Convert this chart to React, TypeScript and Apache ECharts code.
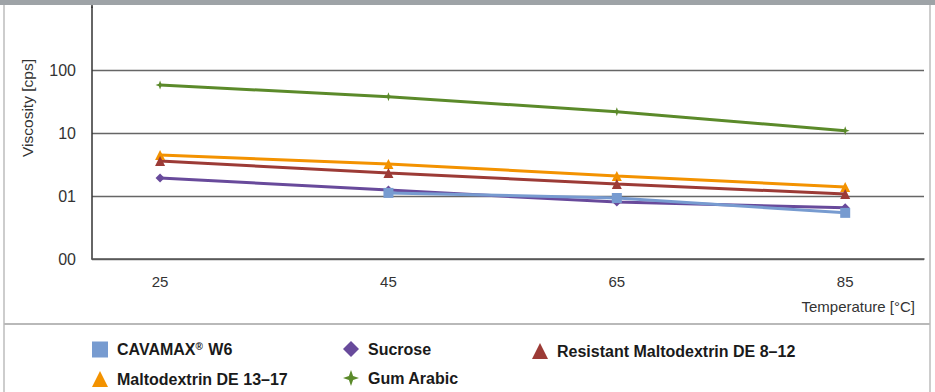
import React, { useEffect, useRef } from "react";
import * as echarts from "echarts";

const temperatures = [25, 45, 65, 85];
const cavamaxW6 = [null, 1.12, 0.93, 0.54];
const sucrose = [1.93, 1.24, 0.8, 0.65];
const resistantMaltodextrin = [3.59, 2.32, 1.55, 1.08];
const maltodextrin = [4.48, 3.22, 2.08, 1.39];
const gumArabic = [57.8, 37.7, 21.8, 10.9];
const yTickLabels = ["00", "01", "10", "100", ""];

const STAR = "path://M0,-10 L2.6,-2.6 L10,0 L2.6,2.6 L0,10 L-2.6,2.6 L-10,0 L-2.6,-2.6 Z";
const FONT = "Liberation Sans, Arial, Helvetica, sans-serif";

const pairs = (vals: (number | null)[]) =>
  temperatures
    .map((t, i) => (vals[i] == null ? null : [t, vals[i]]))
    .filter((p) => p !== null);

export default function App() {
  const ref = useRef<HTMLDivElement>(null);
  useEffect(() => {
    if (!ref.current) return;
    const chart = echarts.init(ref.current, undefined, { renderer: "svg" });
    const legendText = {
      fontFamily: FONT,
      fontSize: 16,
      fontWeight: "bold" as const,
      color: "#1a1a1a",
      padding: [0, 0, 0, 4],
      rich: {
        sup: { fontFamily: FONT, fontSize: 10, fontWeight: "bold" as const, color: "#1a1a1a", verticalAlign: "top" as const, padding: [0, 1, 7, 0] },
      },
    };
    const mkLegend = (name: string, icon: string, left: number, top: number) => ({
      show: true,
      left,
      top,
      padding: 0,
      itemWidth: 16,
      itemHeight: 16,
      selectedMode: false,
      orient: "horizontal" as const,
      data: [{ name, icon }],
      formatter: (n: string) => (n === "CAVAMAX® W6" ? "CAVAMAX{sup|®} W6" : n),
      textStyle: legendText,
    });
    const line = (name: string, data: any, color: string, symbol: string, size: number) => ({
      name,
      type: "line",
      data: pairs(data),
      symbol,
      symbolSize: size,
      showSymbol: true,
      lineStyle: { color, width: 3 },
      itemStyle: { color },
      z: 3,
    });
    chart.setOption({
      animation: false,
      backgroundColor: "#ffffff",
      grid: { left: 92, right: 11, top: 7, bottom: 133, containLabel: false },
      xAxis: {
        type: "value",
        min: 19.04,
        max: 91.9,
        axisLine: { show: true, lineStyle: { color: "#555", width: 1.5 } },
        axisTick: { show: false },
        splitLine: { show: false },
        axisLabel: {
          customValues: temperatures,
          fontFamily: FONT,
          fontSize: 15,
          color: "#333",
          margin: 15,
        },
      },
      yAxis: {
        type: "log",
        logBase: 10,
        min: 0.1,
        max: 1000,
        axisLine: { show: true, lineStyle: { color: "#333", width: 1.5 } },
        axisTick: { show: false },
        splitLine: { show: true, showMaxLine: false, lineStyle: { color: "#666", width: 1.3 } },
        axisLabel: {
          fontFamily: FONT,
          fontSize: 16,
          color: "#333",
          margin: 16,
          formatter: (v: number) => yTickLabels[Math.round(Math.log10(v)) + 1] ?? "",
        },
      },
      legend: [
        mkLegend("CAVAMAX® W6", "rect", 92, 341),
        mkLegend("Maltodextrin DE 13–17", "triangle", 92, 371),
        mkLegend("Sucrose", "diamond", 343, 341),
        mkLegend("Gum Arabic", STAR, 343, 370),
        mkLegend("Resistant Maltodextrin DE 8–12", "triangle", 532, 343),
      ],
      graphic: [
        { type: "rect", shape: { x: 0, y: 0, width: 935, height: 5 }, style: { fill: "#9ea3a7" }, z: 100 },
        { type: "line", shape: { x1: 4, y1: 5, x2: 4, y2: 392 }, style: { stroke: "#cdcdcd", lineWidth: 2 }, z: 100 },
        { type: "line", shape: { x1: 930, y1: 5, x2: 930, y2: 392 }, style: { stroke: "#cdcdcd", lineWidth: 2 }, z: 100 },
        { type: "line", shape: { x1: 4, y1: 324, x2: 930, y2: 324 }, style: { stroke: "#b9b9b9", lineWidth: 2 }, z: 100 },
        { type: "line", shape: { x1: 92, y1: 5, x2: 92, y2: 8 }, style: { stroke: "#333", lineWidth: 1.5 }, z: 100 },
        {
          type: "text",
          x: 27,
          y: 108,
          rotation: Math.PI / 2,
          style: { text: "Viscosity [cps]", fontFamily: FONT, fontSize: 15.5, fill: "#333", align: "center", verticalAlign: "middle" },
        },
        {
          type: "text",
          x: 915,
          y: 306,
          style: { text: "Temperature [°C]", fontFamily: FONT, fontSize: 15, fill: "#333", align: "right", verticalAlign: "middle" },
        },
      ],
      series: [
        line("Gum Arabic", gumArabic, "#5b8a2a", STAR, 9),
        line("Maltodextrin DE 13–17", maltodextrin, "#f39200", "triangle", 10),
        line("Resistant Maltodextrin DE 8–12", resistantMaltodextrin, "#9c3b36", "triangle", 10),
        line("Sucrose", sucrose, "#684a9b", "diamond", 9),
        line("CAVAMAX® W6", cavamaxW6, "#779bd0", "rect", 10),
      ],
    });
    return () => chart.dispose();
  }, []);
  return <div ref={ref} style={{ position: "fixed", left: 0, top: 0, width: 935, height: 392 }} />;
}
